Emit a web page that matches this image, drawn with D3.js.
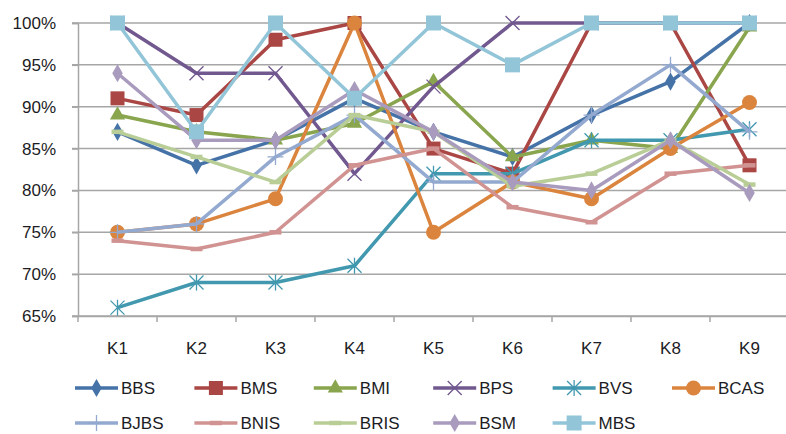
<!DOCTYPE html>
<html>
<head>
<meta charset="utf-8">
<script src="https://cdn.jsdelivr.net/npm/d3@7"></script>
<style>
  body { margin: 0; background: #fff; }
  text { font-family: "Liberation Sans", Arial, sans-serif; fill: #1c1c24; }
</style>
</head>
<body>
<script>
// categories and tick labels
const categories = ["K1", "K2", "K3", "K4", "K5", "K6", "K7", "K8", "K9"];
const yTicks = [0.65, 0.70, 0.75, 0.80, 0.85, 0.90, 0.95, 1.00];

// series values (percent)
const BBS  = [87, 83, 86, 91, 87, 84, 89, 93, 100];
const BMS  = [91, 89, 98, 100, 85, 82, 100, 100, 83];
const BMI  = [89, 87, 86, 88, 93, 84, 86, 85, 99.5];
const BPS  = [100, 94, 94, 82, 92.4, 100, 100, 100, 100];
const BVS  = [66, 69, 69, 71, 82, 82, 86, 86, 87.3];
const BCAS = [75, 76, 79, 100, 75, 81, 79, 85, 90.5];
const BJBS = [75, 76, 84, 89, 81, 81, 89, 95, 87];
const BNIS = [74, 73, 75, 83, 85, 78, 76.2, 82, 83];
const BRIS = [87, 84, 81, 89, 87, 80.5, 82, 86, 80.7];
const BSM  = [94, 86, 86, 92, 87, 81, 80, 86, 79.7];
const MBS  = [100, 87, 100, 91, 100, 95, 100, 100, 100];

const seriesNames = ["BBS", "BMS", "BMI", "BPS", "BVS", "BCAS", "BJBS", "BNIS", "BRIS", "BSM", "MBS"];
const seriesValues = [BBS, BMS, BMI, BPS, BVS, BCAS, BJBS, BNIS, BRIS, BSM, MBS];
const seriesColors = ["#4572A7", "#AA4643", "#89A54E", "#71588F", "#4198AF", "#DB843D",
                      "#93A9CF", "#D19392", "#B9CD96", "#A99BBD", "#92C5D8"];
const seriesMarkers = ["diamond", "square", "triangle", "x", "star", "circle",
                       "plus", "dash", "dash", "diamond", "bigsquare"];

const width = 786, height = 434;
const svg = d3.select("body").append("svg")
    .attr("width", width)
    .attr("height", height);

const x = d3.scaleBand().domain(categories).range([78, 789]);
const y = d3.scaleLinear().domain([0.65, 1.0]).range([316, 23]);

// gridlines
svg.append("g")
  .selectAll("line")
  .data(yTicks)
  .join("line")
    .attr("x1", 72).attr("x2", 789)
    .attr("y1", d => y(d)).attr("y2", d => y(d))
    .attr("stroke", "#a6a6a6")
    .attr("stroke-width", 1.5);

// y axis
const yAxis = svg.append("g")
    .attr("transform", "translate(78,0)")
    .call(d3.axisLeft(y).tickValues(yTicks).tickFormat(d3.format(".0%")).tickSize(6).tickPadding(16));
yAxis.select(".domain").attr("stroke", "#a6a6a6").attr("stroke-width", 1.5);
yAxis.selectAll(".tick line").attr("stroke", "#a6a6a6").attr("stroke-width", 1.5);
yAxis.selectAll("text").attr("font-size", 17).attr("fill", "#1c1c24")
    .style("font-family", "'Liberation Sans', Arial, sans-serif");

// x axis
const xAxis = svg.append("g")
    .attr("transform", "translate(0,316)")
    .call(d3.axisBottom(x).tickSize(0).tickPadding(26));
xAxis.select(".domain").attr("stroke", "#a6a6a6").attr("stroke-width", 1.5);
xAxis.selectAll("text").attr("font-size", 17).attr("fill", "#1c1c24")
    .style("font-family", "'Liberation Sans', Arial, sans-serif");
svg.append("g")
  .selectAll("line")
  .data(categories)
  .join("line")
    .attr("x1", d => x(d)).attr("x2", d => x(d))
    .attr("y1", 316).attr("y2", 322)
    .attr("stroke", "#a6a6a6")
    .attr("stroke-width", 1.5);

function drawMarker(g, type, color, cx, cy) {
  if (type === "diamond") {
    g.append("path").attr("d", d3.symbol(d3.symbolDiamond, 95)())
      .attr("transform", `translate(${cx},${cy})`).attr("fill", color);
  } else if (type === "square") {
    g.append("rect").attr("x", cx - 7).attr("y", cy - 7).attr("width", 14).attr("height", 14).attr("fill", color);
  } else if (type === "bigsquare") {
    g.append("rect").attr("x", cx - 7.5).attr("y", cy - 7.5).attr("width", 15).attr("height", 15).attr("fill", color);
  } else if (type === "triangle") {
    g.append("path").attr("d", d3.symbol(d3.symbolTriangle, 100)())
      .attr("transform", `translate(${cx},${cy})`).attr("fill", color);
  } else if (type === "circle") {
    g.append("circle").attr("cx", cx).attr("cy", cy).attr("r", 7.5).attr("fill", color);
  } else if (type === "x") {
    g.append("path").attr("d", `M${cx-7},${cy-7}L${cx+7},${cy+7}M${cx-7},${cy+7}L${cx+7},${cy-7}`)
      .attr("stroke", color).attr("stroke-width", 1.3);
  } else if (type === "star") {
    g.append("path").attr("d", `M${cx-7},${cy-7}L${cx+7},${cy+7}M${cx-7},${cy+7}L${cx+7},${cy-7}M${cx},${cy-8}L${cx},${cy+8}`)
      .attr("stroke", color).attr("stroke-width", 1.3);
  } else if (type === "plus") {
    g.append("path").attr("d", `M${cx-8},${cy}L${cx+8},${cy}M${cx},${cy-8}L${cx},${cy+8}`)
      .attr("stroke", color).attr("stroke-width", 1.3);
  } else if (type === "dash") {
    g.append("path").attr("d", `M${cx-6},${cy}L${cx+6},${cy}`)
      .attr("stroke", color).attr("stroke-width", 4.5);
  }
}

const line = d3.line()
    .x((d, i) => x(categories[i]) + x.bandwidth() / 2)
    .y(d => y(d / 100));

seriesValues.forEach((vals, s) => {
  const g = svg.append("g");
  g.append("path")
    .datum(vals)
    .attr("d", line)
    .attr("fill", "none")
    .attr("stroke", seriesColors[s])
    .attr("stroke-width", 3.5)
    .attr("stroke-linejoin", "round");
  vals.forEach((v, i) => {
    drawMarker(g, seriesMarkers[s], seriesColors[s], x(categories[i]) + x.bandwidth() / 2, y(v / 100));
  });
});

// legend
const legend = svg.append("g");
seriesNames.forEach((name, i) => {
  const lx = 75 + (i % 6) * 119.4;
  const ly = i < 6 ? 388 : 423;
  const g = legend.append("g");
  g.append("line").attr("x1", lx).attr("x2", lx + 43).attr("y1", ly).attr("y2", ly)
    .attr("stroke", seriesColors[i]).attr("stroke-width", 3.5);
  drawMarker(g, seriesMarkers[i], seriesColors[i], lx + 21.5, ly);
  g.append("text").attr("x", lx + 46).attr("y", ly + 6)
    .attr("font-size", 17).text(name);
});
</script>
</body>
</html>
